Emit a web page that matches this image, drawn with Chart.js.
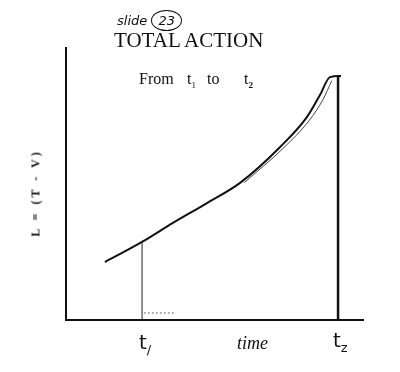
<!DOCTYPE html>
<html lang="en">
<head>
<meta charset="UTF-8">
<title>Total Action</title>
<script src="https://cdn.jsdelivr.net/npm/chart.js"></script>
<style>
    html, body { margin: 0; padding: 0; background: #fff; }
    .wrap { position: relative; width: 400px; height: 372px; }
    canvas { position: absolute; left: 0; top: 0; }
    .txt { position: absolute; color: #111; white-space: nowrap; }
    .slide { left: 117px; top: 10px; font-family: "DejaVu Sans", sans-serif; font-size: 13px; font-style: italic; }
    .slide span { display: inline-block; border: 1px solid #111; border-radius: 50%; padding: 2px 6px; }
    .title { left: 114px; top: 28px; font-family: "Liberation Serif", serif; font-size: 21px; }
    .sub { top: 70px; font-family: "Liberation Serif", serif; font-size: 16px; }
    .ylab { left: 36px; top: 193px; font-family: "Liberation Serif", serif; font-size: 12px; font-weight: bold;
            letter-spacing: 3px; transform: translate(-50%, -50%) rotate(-90deg); }
    .hand { font-family: "DejaVu Sans", sans-serif; font-size: 20px; }
    .time { left: 237px; top: 333px; font-family: "Liberation Serif", serif; font-size: 18px; font-style: italic; }
    sub { font-size: 9px; }
</style>
</head>
<body>
<div class="wrap">
    <canvas id="c" width="400" height="372"></canvas>
    <div class="txt slide">slide <span>23</span></div>
    <div class="txt title">TOTAL ACTION</div>
    <div class="txt sub" style="left:139px;">From</div>
    <div class="txt sub" style="left:187px;">t<sub>1</sub></div>
    <div class="txt sub" style="left:207px;">to</div>
    <div class="txt sub" style="left:244px;">t<sub><b>2</b></sub></div>
    <div class="txt ylab">L = (T - V)</div>
    <div class="txt hand" style="left:139px;top:330px;">t<sub style="font-size:13px">/</sub></div>
    <div class="txt time">time</div>
    <div class="txt hand" style="left:333px;top:328px;">t<sub style="font-size:13px">z</sub></div>
</div>
<script>
// curve L(t) (x, y in 0..10 units)
const curveX = [1.31, 2.56, 3.60, 4.75, 5.86, 7.21, 8.11, 8.55, 8.89, 9.26];
const curveY = [2.13, 2.87, 3.57, 4.30, 5.04, 6.36, 7.46, 8.27, 8.93, 8.97];
// faint second stroke along the upper part of the curve
const traceX = [6.00, 7.30, 8.20, 8.65, 8.95];
const traceY = [5.05, 6.30, 7.35, 8.10, 8.80];
// dotted tick near the foot of t1
const footX = [2.62, 3.70];
const footY = [0.26, 0.26];
const t1 = 2.56;
const t2 = 9.16;

const pts = (xs, ys) => xs.map((x, i) => ({ x: x, y: ys[i] }));

new Chart(document.getElementById('c'), {
    type: 'line',
    data: {
        datasets: [
            {
                data: pts(curveX, curveY),
                borderColor: '#111',
                borderWidth: 2,
                pointRadius: 0,
                cubicInterpolationMode: 'monotone'
            },
            {
                data: pts(traceX, traceY),
                borderColor: '#444',
                borderWidth: 1,
                pointRadius: 0,
                cubicInterpolationMode: 'monotone'
            },
            {
                data: [{ x: t1, y: 0 }, { x: t1, y: curveY[1] }],
                borderColor: '#222',
                borderWidth: 1,
                pointRadius: 0
            },
            {
                data: pts(footX, footY),
                borderColor: '#666',
                borderWidth: 1,
                borderDash: [2, 2],
                pointRadius: 0
            },
            {
                data: [{ x: t2, y: 0 }, { x: t2, y: curveY[curveY.length - 1] }],
                borderColor: '#111',
                borderWidth: 2.5,
                pointRadius: 0
            }
        ]
    },
    options: {
        responsive: false,
        animation: false,
        layout: { padding: { left: 66, right: 37, top: 48, bottom: 52 } },
        plugins: { legend: { display: false }, tooltip: { enabled: false } },
        scales: {
            x: {
                type: 'linear', min: 0, max: 10,
                grid: { display: false, drawTicks: false },
                ticks: { display: false },
                border: { display: true, color: '#111', width: 2 }
            },
            y: {
                type: 'linear', min: 0, max: 10,
                grid: { display: false, drawTicks: false },
                ticks: { display: false },
                border: { display: true, color: '#111', width: 2 }
            }
        }
    }
});
</script>
</body>
</html>
